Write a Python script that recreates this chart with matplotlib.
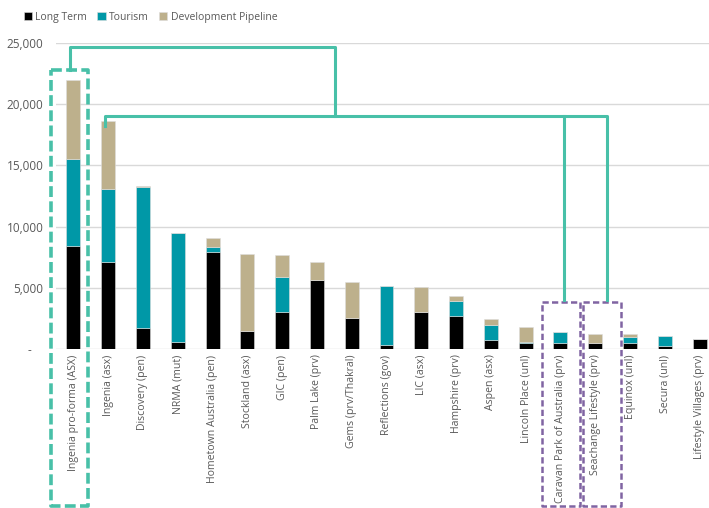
import matplotlib.pyplot as plt
import numpy as np

plt.rcParams['font.family'] = ['Open Sans', 'DejaVu Sans']

names = ["Ingenia pro-forma (ASX)", "Ingenia (asx)", "Discovery (pen)", "NRMA (mut)",
         "Hometown Australia (pen)", "Stockland (asx)", "GIC (pen)", "Palm Lake (prv)",
         "Gems (prv/Thakral)", "Reflections (gov)", "LIC (asx)", "Hampshire (prv)",
         "Aspen (asx)", "Lincoln Place (unl)", "Caravan Park of Australia (prv)",
         "Seachange Lifestyle (prv)", "Equinox (unl)", "Secura (unl)", "Lifestyle Villages (prv)"]
long_term = [8450, 7100, 1700, 550, 7950, 1500, 3050, 5650, 2550, 300, 3050, 2700, 700, 450, 500, 500, 450, 250, 800]
tourism = [7100, 6000, 11550, 8900, 400, 0, 2800, 0, 0, 4850, 0, 1250, 1300, 150, 900, 0, 550, 800, 0]
pipeline = [6400, 5500, 100, 0, 750, 6300, 1800, 1450, 2900, 0, 2050, 350, 450, 1200, 0, 750, 200, 0, 0]
yticks = [0, 5000, 10000, 15000, 20000, 25000]
ylabels = ["-    ", "5,000", "10,000", "15,000", "20,000", "25,000"]

c_long = '#000000'
c_tour = '#0098A7'
c_pipe = '#BDB08C'
grey = '#595959'
mint = '#48C0A8'
purple = '#8064A2'

fig = plt.figure(figsize=(7.09, 5.08), dpi=100)
ax = fig.add_axes([56/709, 159/508, 661/709, 306/508])

x = np.arange(len(names))
lt = np.array(long_term)
tr = np.array(tourism)
pp = np.array(pipeline)
w = 0.4
ax.bar(x, lt, w, color=c_long, label='Long Term', edgecolor='#dddddd', linewidth=0.4, zorder=3)
ax.bar(x, tr, w, bottom=lt, color=c_tour, label='Tourism', edgecolor='#dddddd', linewidth=0.4, zorder=3)
ax.bar(x, pp, w, bottom=lt + tr, color=c_pipe, label='Development Pipeline', edgecolor='#dddddd', linewidth=0.4, zorder=3)

ax.set_xlim(-0.5, len(names) - 0.5)
ax.set_ylim(0, 25000)
ax.set_yticks(yticks)
ax.set_yticklabels(ylabels)
ax.set_xticks(x)
ax.set_xticklabels(names, rotation=90, va='top', ha='center')
ax.tick_params(axis='y', length=0, pad=9, labelsize=8.5, labelcolor=grey)
ax.tick_params(axis='x', length=0, pad=4, labelsize=7.6, labelcolor=grey)
ax.grid(axis='y', color='#d9d9d9', linewidth=1, zorder=0)
for s in ax.spines.values():
    s.set_visible(False)

fig.legend(loc='upper left', bbox_to_anchor=(0.02, 0.995), ncol=3, frameon=False,
           fontsize=7.5, labelcolor=grey, handlelength=0.8, handleheight=0.8,
           handletextpad=0.3, columnspacing=1.0)

# highlight boxes and connectors (data coordinates, drawn outside the axes)
def seg(xs, ys, **kw):
    ax.plot(xs, ys, clip_on=False, zorder=5, **kw)

seg([-0.65, 0.42, 0.42, -0.65, -0.65], [22800, 22800, -12800, -12800, 22800],
    color=mint, lw=2.6, ls=(0, (3, 1.2)))
seg([13.46, 14.55, 14.55, 13.46, 13.46], [3880, 3880, -12800, -12800, 3880],
    color=purple, lw=1.8, ls=(0, (2.5, 1.3)))
seg([14.64, 15.73, 15.73, 14.64, 14.64], [3880, 3880, -12800, -12800, 3880],
    color=purple, lw=1.8, ls=(0, (2.5, 1.3)))

seg([-0.1, -0.1, 7.51, 7.51], [22800, 24700, 24700, 19000], color=mint, lw=2.2)
seg([0.905, 0.905, 15.33, 15.33], [18200, 19000, 19000, 4000], color=mint, lw=2.2)
seg([14.1, 14.1], [19000, 4000], color=mint, lw=2.2)

fig.savefig('out.png', dpi=100)
